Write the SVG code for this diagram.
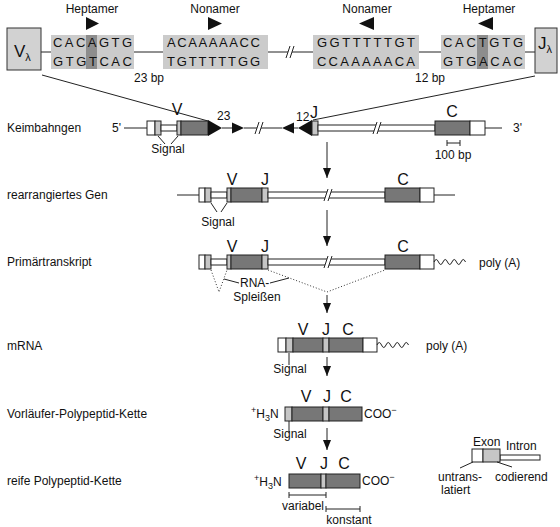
<svg xmlns="http://www.w3.org/2000/svg" width="560" height="527" viewBox="0 0 560 527">
<defs>
<style>
text{font-family:"Liberation Sans",Arial,sans-serif;fill:#111}
.f12{font-size:12px}
.seq{font-size:13px}
.big{font-size:16px}
.mid{text-anchor:middle}
.ln{stroke:#222;stroke-width:1;fill:none}
.dk{fill:#777;stroke:#222;stroke-width:1}
.lt{fill:#c6c6c6;stroke:#222;stroke-width:1}
.wh{fill:#fff;stroke:#222;stroke-width:1}
.sq{fill:#cbcbcb}
.hl{fill:#8d8d8d}
.tri{fill:#111}
.dot{stroke:#333;stroke-width:1;stroke-dasharray:1 2;fill:none}
</style>
<marker id="ah" markerWidth="10" markerHeight="8" refX="10" refY="4" orient="auto" markerUnits="userSpaceOnUse" viewBox="0 0 10 8"><path d="M0,0 L10,4 L0,8 z" fill="#111"/></marker>
<g id="brk"><polygon points="-3,6 1,-6 5,-6 1,6" fill="#fff"/><line class="ln" x1="-3" y1="6" x2="1" y2="-6"/><line class="ln" x1="1" y1="6" x2="5" y2="-6"/></g>
</defs>
<rect width="560" height="527" fill="#fff"/>

<g id="connectors">
<line class="ln" x1="41" y1="52" x2="51" y2="52"/>
<line class="ln" x1="134" y1="52" x2="163" y2="52"/>
<line class="ln" x1="268" y1="52" x2="313" y2="52"/>
<use href="#brk" x="289" y="52"/>
<line class="ln" x1="419" y1="52" x2="441" y2="52"/>
<line class="ln" x1="525" y1="52" x2="535" y2="52"/>
<line class="ln" x1="42" y1="75" x2="208" y2="121"/>
<line class="ln" x1="535" y1="76" x2="313" y2="120"/>
<line class="ln" x1="327" y1="142" x2="327" y2="178" marker-end="url(#ah)"/>
<line class="ln" x1="327" y1="210" x2="327" y2="246" marker-end="url(#ah)"/>
<line class="ln" x1="327" y1="295" x2="327" y2="313" marker-end="url(#ah)"/>
<line class="ln" x1="327" y1="357" x2="327" y2="376" marker-end="url(#ah)"/>
<line class="ln" x1="327" y1="428" x2="327" y2="450" marker-end="url(#ah)"/>
</g>

<g id="v-lambda">
<rect x="7" y="28" width="34" height="42" fill="#d2d2d2" stroke="#333"/>
<text x="14" y="57" style="font-size:17px">V<tspan style="font-size:11px" dy="4">λ</tspan></text>
</g>
<g id="j-lambda">
<rect x="535" y="28" width="22" height="45" fill="#d2d2d2" stroke="#333"/>
<text x="538" y="49" style="font-size:17px">J<tspan style="font-size:11px" dy="4">λ</tspan></text>
</g>

<g id="heptamer-1">
<text class="f12 mid" x="92" y="13">Heptamer</text>
<polygon class="tri" points="86,17 86,30 99,23.5"/>
<rect class="sq" x="51" y="35" width="83" height="34"/>
<rect class="hl" x="86" y="35" width="11" height="34"/>
<text class="seq" x="53" y="47" textLength="79" lengthAdjust="spacing">CACAGTG</text>
<text class="seq" x="53" y="66" textLength="79" lengthAdjust="spacing">GTGTCAC</text>
</g>
<g id="nonamer-1">
<text class="f12 mid" x="215" y="13">Nonamer</text>
<polygon class="tri" points="208,17 208,30 222,23.5"/>
<rect class="sq" x="163" y="35" width="105" height="34"/>
<text class="seq" x="167" y="47" textLength="93" lengthAdjust="spacing">ACAAAAACC</text>
<text class="seq" x="167" y="66" textLength="93" lengthAdjust="spacing">TGTTTTTGG</text>
<text class="f12" x="134" y="82">23 bp</text>
</g>
<g id="nonamer-2">
<text class="f12 mid" x="367" y="13">Nonamer</text>
<polygon class="tri" points="374,17 374,30 359,23.5"/>
<rect class="sq" x="313" y="35" width="106" height="34"/>
<text class="seq" x="317" y="47" textLength="98" lengthAdjust="spacing">GGTTTTTGT</text>
<text class="seq" x="317" y="66" textLength="98" lengthAdjust="spacing">CCAAAAACA</text>
<text class="f12" x="415" y="82">12 bp</text>
</g>
<g id="heptamer-2">
<text class="f12 mid" x="489" y="13">Heptamer</text>
<polygon class="tri" points="493,17 493,30 478,23.5"/>
<rect class="sq" x="441" y="35" width="84" height="34"/>
<rect class="hl" x="477" y="35" width="11" height="34"/>
<text class="seq" x="443" y="47" textLength="80" lengthAdjust="spacing">CACTGTG</text>
<text class="seq" x="443" y="66" textLength="80" lengthAdjust="spacing">GTGACAC</text>
</g>

<g id="keimbahngen">
<text class="f12" x="7" y="132">Keimbahngen</text>
<text class="f12" x="112" y="132">5'</text>
<line class="ln" x1="124" y1="128" x2="147" y2="128"/>
<rect class="wh" x="147" y="121" width="8" height="14"/>
<rect class="lt" x="155" y="121" width="6" height="14"/>
<rect class="wh" x="161" y="125" width="16" height="6"/>
<rect class="lt" x="177" y="121" width="4" height="14"/>
<rect class="dk" x="181" y="121" width="27" height="14"/>
<polygon class="tri" points="208,120 208,136 222,128"/>
<line class="ln" x1="222" y1="128" x2="232" y2="128"/>
<polygon class="tri" points="232,122.5 232,133.5 244,128"/>
<line class="ln" x1="244" y1="128" x2="282" y2="128"/>
<use href="#brk" x="258" y="128"/>
<polygon class="tri" points="294,122.5 294,133.5 282,128"/>
<line class="ln" x1="294" y1="128" x2="298" y2="128"/>
<polygon class="tri" points="312,120 312,136 298,128"/>
<rect class="lt" x="312" y="121" width="6" height="14"/>
<rect class="wh" x="318" y="125" width="117" height="6"/>
<use href="#brk" x="376" y="128"/>
<rect class="dk" x="435" y="121" width="35" height="14"/>
<rect class="wh" x="470" y="121" width="15" height="14"/>
<line class="ln" x1="485" y1="128" x2="502" y2="128"/>
<text class="f12" x="513" y="132">3'</text>
<text class="big mid" x="177" y="115">V</text>
<text class="f12" x="217" y="120">23</text>
<text class="f12" x="296" y="121">12</text>
<text class="big mid" x="314" y="118">J</text>
<text class="big mid" x="452" y="117">C</text>
<line class="ln" x1="447" y1="143" x2="460" y2="143"/>
<line class="ln" x1="447" y1="140" x2="447" y2="146"/>
<line class="ln" x1="460" y1="140" x2="460" y2="146"/>
<text class="f12 mid" x="453" y="159">100 bp</text>
<line class="ln" x1="158" y1="136" x2="165" y2="144"/>
<line class="ln" x1="178" y1="136" x2="171" y2="144"/>
<text class="f12 mid" x="168" y="153">Signal</text>
</g>

<g id="rearrangiertes-gen">
<text class="f12" x="7" y="199">rearrangiertes Gen</text>
<line class="ln" x1="177" y1="195" x2="199" y2="195"/>
<rect class="wh" x="199" y="188" width="6" height="14"/>
<rect class="lt" x="205" y="188" width="6" height="14"/>
<rect class="wh" x="211" y="192" width="16" height="6"/>
<rect class="lt" x="227" y="188" width="4" height="14"/>
<rect class="dk" x="231" y="188" width="31" height="14"/>
<rect class="lt" x="262" y="188" width="6" height="14"/>
<rect class="wh" x="268" y="192" width="117" height="6"/>
<use href="#brk" x="327" y="195"/>
<rect class="dk" x="385" y="188" width="35" height="14"/>
<rect class="wh" x="420" y="188" width="14" height="14"/>
<line class="ln" x1="434" y1="195" x2="455" y2="195"/>
<text class="big mid" x="232" y="185">V</text>
<text class="big mid" x="265" y="185">J</text>
<text class="big mid" x="403" y="185">C</text>
<line class="ln" x1="211" y1="203" x2="217" y2="212"/>
<line class="ln" x1="227" y1="203" x2="221" y2="212"/>
<text class="f12 mid" x="218" y="226">Signal</text>
</g>

<g id="primaertranskript">
<text class="f12" x="7" y="266">Primärtranskript</text>
<rect class="wh" x="199" y="255" width="6" height="14"/>
<rect class="lt" x="205" y="255" width="6" height="14"/>
<rect class="wh" x="211" y="259" width="16" height="6"/>
<rect class="lt" x="227" y="255" width="4" height="14"/>
<rect class="dk" x="231" y="255" width="31" height="14"/>
<rect class="lt" x="262" y="255" width="6" height="14"/>
<rect class="wh" x="268" y="259" width="117" height="6"/>
<use href="#brk" x="327" y="262"/>
<rect class="dk" x="385" y="255" width="35" height="14"/>
<rect class="wh" x="420" y="255" width="14" height="14"/>
<path class="ln" d="M434,262 q2.25,-5 4.5,0 t4.5,0 t4.5,0 t4.5,0 t4.5,0 t4.5,0 t4.5,0"/>
<text class="f12" x="479" y="267">poly (A)</text>
<text class="big mid" x="232" y="252">V</text>
<text class="big mid" x="265" y="252">J</text>
<text class="big mid" x="403" y="252">C</text>
<polyline class="dot" points="211,270 219,292 227,270"/>
<polyline class="dot" points="268,270 327,292 385,270"/>
<line class="ln" x1="224" y1="279" x2="239" y2="283"/>
<line class="ln" x1="270" y1="283" x2="289" y2="278"/>
<text class="f12" x="240" y="287">RNA-</text>
<text class="f12 mid" x="257" y="301">Spleißen</text>
</g>

<g id="mrna">
<text class="f12" x="7" y="350">mRNA</text>
<rect class="wh" x="278" y="338" width="8" height="14"/>
<rect class="lt" x="286" y="338" width="7" height="14"/>
<rect class="dk" x="293" y="338" width="30" height="14"/>
<rect class="lt" x="323" y="338" width="6" height="14"/>
<rect class="dk" x="329" y="338" width="34" height="14"/>
<rect class="wh" x="363" y="338" width="14" height="14"/>
<path class="ln" d="M377,345 q2.25,-5 4.5,0 t4.5,0 t4.5,0 t4.5,0 t4.5,0 t4.5,0 t4.5,0"/>
<text class="f12" x="426" y="350">poly (A)</text>
<text class="big mid" x="303" y="335">V</text>
<text class="big mid" x="326" y="335">J</text>
<text class="big mid" x="348" y="335">C</text>
<line class="ln" x1="289" y1="353" x2="289" y2="365"/>
<text class="f12 mid" x="290" y="373">Signal</text>
</g>

<g id="vorlaeufer">
<text class="f12" x="7" y="418">Vorläufer-Polypeptid-Kette</text>
<text class="f12" x="251" y="418"><tspan style="font-size:9px" dy="-5">+</tspan><tspan dy="5">H</tspan><tspan style="font-size:9px" dy="3">3</tspan><tspan dy="-3">N</tspan></text>
<rect class="lt" x="285" y="407" width="7" height="14"/>
<rect class="dk" x="292" y="407" width="31" height="14"/>
<rect class="lt" x="323" y="407" width="6" height="14"/>
<rect class="dk" x="329" y="407" width="33" height="14"/>
<text class="f12" x="364" y="418">COO<tspan style="font-size:9px" dy="-5">−</tspan></text>
<text class="big mid" x="306" y="402">V</text>
<text class="big mid" x="327" y="402">J</text>
<text class="big mid" x="346" y="402">C</text>
<line class="ln" x1="289" y1="421" x2="289" y2="432"/>
<text class="f12 mid" x="290" y="438">Signal</text>
</g>

<g id="reife">
<text class="f12" x="7" y="485">reife Polypeptid-Kette</text>
<text class="f12" x="254" y="486"><tspan style="font-size:9px" dy="-5">+</tspan><tspan dy="5">H</tspan><tspan style="font-size:9px" dy="3">3</tspan><tspan dy="-3">N</tspan></text>
<rect class="dk" x="289" y="474" width="32" height="14"/>
<rect class="lt" x="321" y="474" width="5" height="14"/>
<rect class="dk" x="326" y="474" width="34" height="14"/>
<text class="f12" x="362" y="485">COO<tspan style="font-size:9px" dy="-5">−</tspan></text>
<text class="big mid" x="301" y="469">V</text>
<text class="big mid" x="324" y="469">J</text>
<text class="big mid" x="344" y="469">C</text>
<line class="ln" x1="289" y1="495" x2="326" y2="495"/>
<line class="ln" x1="289" y1="492" x2="289" y2="498"/>
<line class="ln" x1="326" y1="492" x2="326" y2="498"/>
<text class="f12" x="282" y="510">variabel</text>
<line class="ln" x1="326" y1="509" x2="360" y2="509"/>
<line class="ln" x1="326" y1="506" x2="326" y2="512"/>
<line class="ln" x1="360" y1="506" x2="360" y2="512"/>
<text class="f12 mid" x="349" y="524">konstant</text>
</g>

<g id="legend">
<text class="f12" x="473" y="446">Exon</text>
<text class="f12" x="506" y="450">Intron</text>
<rect class="wh" x="500" y="455" width="40" height="5"/>
<rect class="wh" x="472" y="449" width="11" height="13"/>
<rect x="483" y="449" width="17" height="13" fill="#c6c6c6" stroke="#222"/>
<line class="ln" x1="473" y1="462" x2="460" y2="468"/>
<line class="ln" x1="497" y1="462" x2="512" y2="467"/>
<text class="f12" x="438" y="481">untrans-</text>
<text class="f12" x="441" y="494">latiert</text>
<text class="f12" x="495" y="481">codierend</text>
</g>
</svg>
